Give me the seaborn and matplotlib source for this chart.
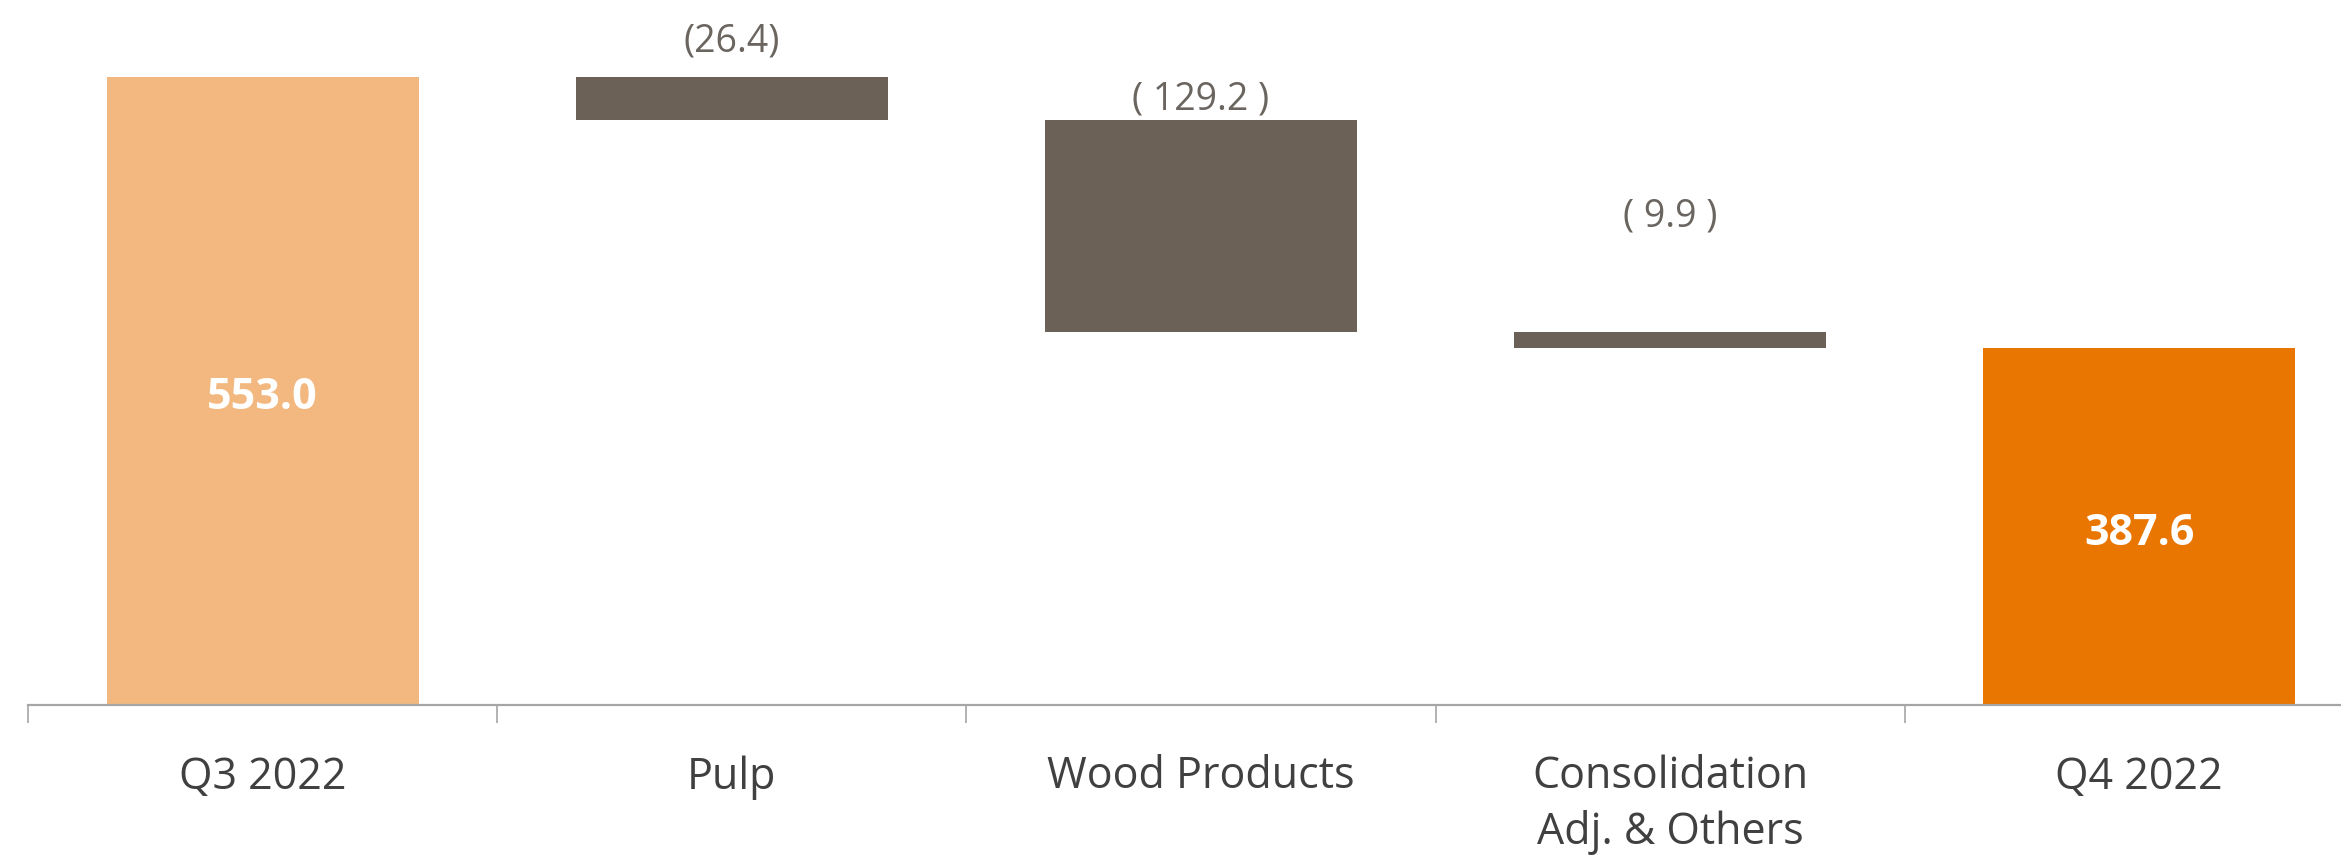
import matplotlib
matplotlib.use("Agg")
import matplotlib.pyplot as plt
from matplotlib.ticker import FixedLocator
import seaborn as sns
import pandas as pd


# chart data
categories = ["Q3 2022", "Pulp", "Wood Products", "Consolidation\nAdj. & Others", "Q4 2022"]
bar_kind = ["total", "delta", "delta", "delta", "total"]
values = [553.0, -26.4, -129.2, -9.9, 387.6]
value_labels = ["553.0", "(26.4)", "( 129.2 )", "( 9.9 )", "387.6"]

# colors
kind_colors = {
    "start": "#F3B880",   # light orange
    "delta": "#6B6157",   # brownish gray
    "end": "#E87600",     # orange
}
label_gray = "#6B6560"
tick_gray = "#A6A6A6"

# gap between delta label baseline and bar top, in pixels (hand placed in original)
label_gap_px = [0, 26, 11, 106, 0]


# waterfall geometry: bottom and height of every bar
bottoms, heights = [], []
running = 0.0
for kind, v in zip(bar_kind, values):
    if kind == "total":
        bottoms.append(0.0)
        heights.append(v)
        running = v
    else:
        running_new = running + v
        bottoms.append(min(running, running_new))
        heights.append(abs(v))
        running = running_new

df = pd.DataFrame({"category": categories, "height": heights, "bottom": bottoms})
bar_colors = [kind_colors["start"], kind_colors["delta"], kind_colors["delta"],
              kind_colors["delta"], kind_colors["end"]]

sns.set_theme(style="white")
plt.rcParams["font.family"] = ["Open Sans", "DejaVu Sans"]

fig = plt.figure(figsize=(23.41, 8.57), dpi=100)
ax = fig.add_axes([28 / 2341, 152 / 857, 1 - 28 / 2341, 705 / 857])

sns.barplot(data=df, x="category", y="height", bottom=df["bottom"].values,
            order=categories, color=bar_colors[0], width=0.665,
            errorbar=None, linewidth=0, ax=ax)

for patch, c in zip(ax.patches, bar_colors):
    patch.set_facecolor(c)
    patch.set_edgecolor(c)

# axis starts above zero, as in the original slide
ax.set_ylim(170, 600)
ax.set_xlim(-0.5, 4.43)
ymin = ax.get_ylim()[0]

# labels
for i, (kind, txt) in enumerate(zip(bar_kind, value_labels)):
    top = bottoms[i] + heights[i]
    if kind == "total":
        ax.annotate(txt, xy=(i, (ymin + top) / 2), xytext=(0, -5),
                    textcoords="offset points", ha="center", va="center",
                    color="white", fontsize=31, fontweight="bold")
    else:
        ax.annotate(txt, xy=(i, top), xytext=(0, label_gap_px[i] * 0.72),
                    textcoords="offset points", ha="center", va="baseline",
                    color=label_gray, fontsize=27)

# axes styling
sns.despine(ax=ax, left=True, top=True, right=True)
ax.spines["bottom"].set_color(tick_gray)
ax.spines["bottom"].set_linewidth(1.6)
ax.set_yticks([])
ax.set_xlabel("")
ax.set_ylabel("")
ax.xaxis.set_minor_locator(FixedLocator([-0.5, 0.5, 1.5, 2.5, 3.5]))
ax.tick_params(axis="x", which="major", length=0, pad=36, labelsize=31,
               labelcolor="#404040")
ax.tick_params(axis="x", which="minor", length=13, width=1.2, color=tick_gray,
               direction="out", bottom=True)
for lbl in ax.get_xticklabels():
    lbl.set_linespacing(1.3)

fig.savefig("out.png", dpi=100)
